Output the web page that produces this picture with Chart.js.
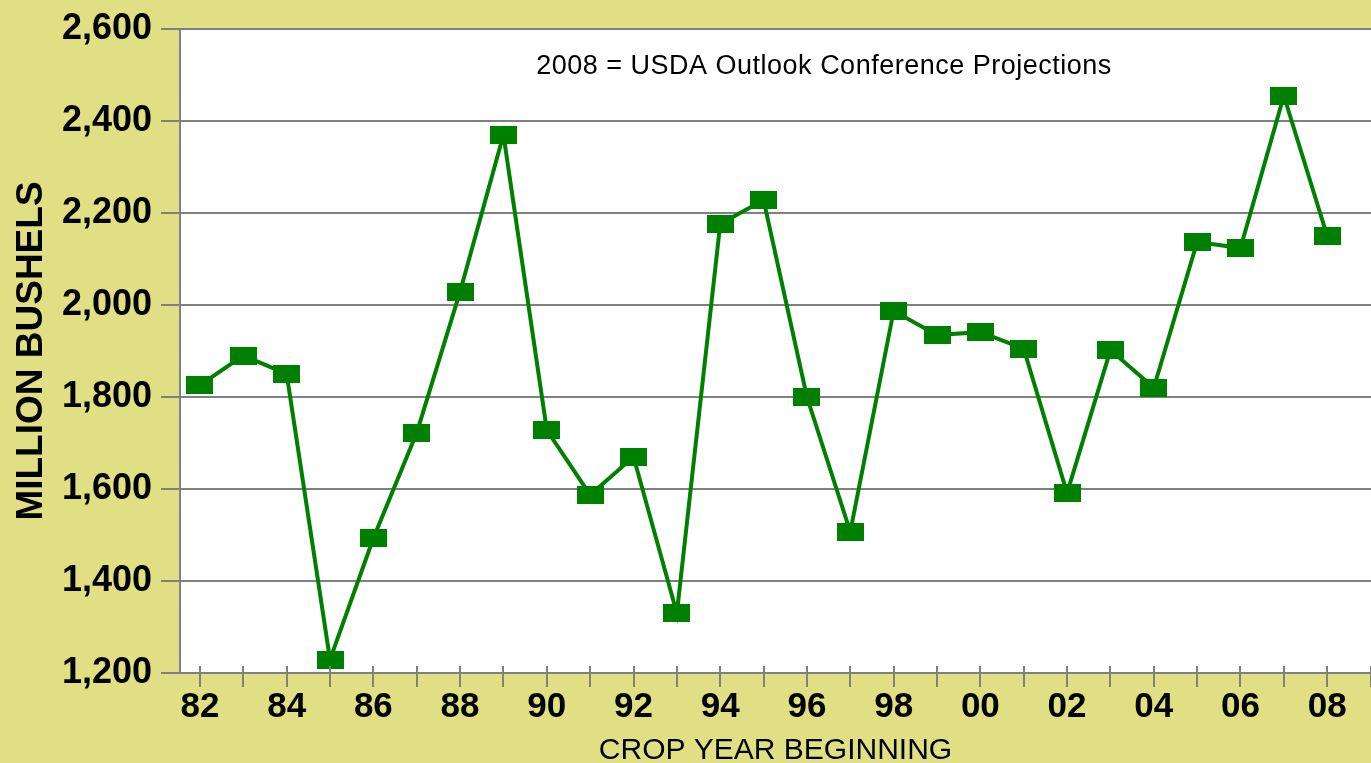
<!DOCTYPE html>
<html>
<head>
<meta charset="utf-8">
<script src="https://cdn.jsdelivr.net/npm/chart.js@4.4.1/dist/chart.umd.min.js"></script>
<style>
html,body{margin:0;padding:0;background:#e1df83;}
#wrap{width:1371px;height:763px;}
</style>
</head>
<body>
<div id="wrap"><canvas id="c" width="1371" height="763"></canvas></div>
<script>
const years = ["82","83","84","85","86","87","88","89","90","91","92","93","94","95","96","97","98","99","00","01","02","03","04","05","06","07","08"];
const bushels = [1826,1890,1850,1229,1493,1722,2029,2370,1728,1587,1670,1330,2176,2228,1800,1507,1987,1935,1941,1905,1591,1902,1820,2137,2124,2455,2150];
const yTicks = [1200,1400,1600,1800,2000,2200,2400,2600];
const yTitle = "MILLION BUSHELS";
const xTitle = "CROP YEAR BEGINNING";
const note = "2008 = USDA Outlook Conference Projections";

const BG = '#e1df83';
const GREEN = '#008000';
const GRID = '#808080';

// marker image
const mk = document.createElement('canvas');
mk.width = 27; mk.height = 18;
const mctx = mk.getContext('2d');
mctx.fillStyle = GREEN;
mctx.fillRect(0,0,27,18);

const bgPlugin = {
  id:'bg',
  beforeDraw(chart){
    const {ctx, chartArea:a} = chart;
    ctx.save();
    ctx.fillStyle = BG;
    ctx.fillRect(0,0,chart.width,chart.height);
    ctx.fillStyle = '#ffffff';
    ctx.fillRect(a.left,a.top,a.right-a.left,a.bottom-a.top);
    ctx.restore();
  },
  afterDraw(chart){
    const {ctx, chartArea:a} = chart;
    const xs = chart.scales.x;
    ctx.save();
    ctx.strokeStyle = GRID;
    ctx.lineWidth = 2;
    for (let i = 0; i <= years.length; i++) {
      const px = Math.round(xs.getPixelForValue(i));
      ctx.beginPath();
      ctx.moveTo(px, a.bottom - 7);
      ctx.lineTo(px, a.bottom);
      ctx.stroke();
    }
    ctx.fillStyle = '#000';
    ctx.font = '27px "Liberation Sans", Arial, sans-serif';
    ctx.letterSpacing = '0.5px';
    ctx.textAlign = 'center';
    ctx.textBaseline = 'middle';
    ctx.fillText(note, 824, 67);
    ctx.restore();
  }
};

new Chart(document.getElementById('c'), {
  type:'line',
  data:{
    datasets:[{
      data: bushels.map((v,i)=>({x:i,y:v})),
      borderColor: GREEN,
      borderWidth: 4,
      pointStyle: mk,
      pointRadius: 10,
      pointHoverRadius: 10,
      tension: 0,
      fill: false,
      clip: false
    }]
  },
  plugins:[bgPlugin],
  options:{
    responsive:false,
    animation:false,
    events:[],
    layout:{autoPadding:false, padding:{top:29,right:0,left:0,bottom:0}},
    plugins:{legend:{display:false},tooltip:{enabled:false}},
    scales:{
      x:{
        type:'linear',
        min:-0.46,
        max:27.01,
        afterFit(s){ s.height = 90; s.paddingRight = 0; s.paddingLeft = 0; },
        afterBuildTicks(s){ s.ticks = []; for (let i=0;i<=years.length;i++) s.ticks.push({value:i}); },
        ticks:{
          autoSkip:false,
          maxRotation:0,
          padding:-1,
          color:'#000',
          font:{family:'"Liberation Sans", Arial, sans-serif', size:35, weight:'bold'},
          callback:(v)=> (v % 2 === 0 && v < years.length) ? years[v] : ''
        },
        grid:{drawOnChartArea:false, drawTicks:true, tickLength:14, color:GRID, lineWidth:2},
        border:{display:true, color:GRID, width:2},
        title:{display:true, text:xTitle, color:'#000',
          font:{family:'"Liberation Sans", Arial, sans-serif', size:30},
          padding:{top:0,bottom:-6}}
      },
      y:{
        min:1200,
        max:2600,
        afterFit(s){ s.width = 180; s.paddingTop = 0; s.paddingBottom = 0; },
        afterBuildTicks(s){ s.ticks = yTicks.map(v=>({value:v})); },
        ticks:{
          padding:9,
          color:'#000',
          font:{family:'"Liberation Sans", Arial, sans-serif', size:36, weight:'bold'},
          callback:(v)=> v.toLocaleString('en-US')
        },
        grid:{color:GRID, lineWidth:2, tickLength:19, drawTicks:true},
        border:{display:true, color:GRID, width:2},
        title:{display:true, text:yTitle, color:'#000',
          font:{family:'"Liberation Sans", Arial, sans-serif', size:37, weight:'bold'},
          padding:{top:10,bottom:0}}
      }
    }
  }
});
</script>
</body>
</html>
